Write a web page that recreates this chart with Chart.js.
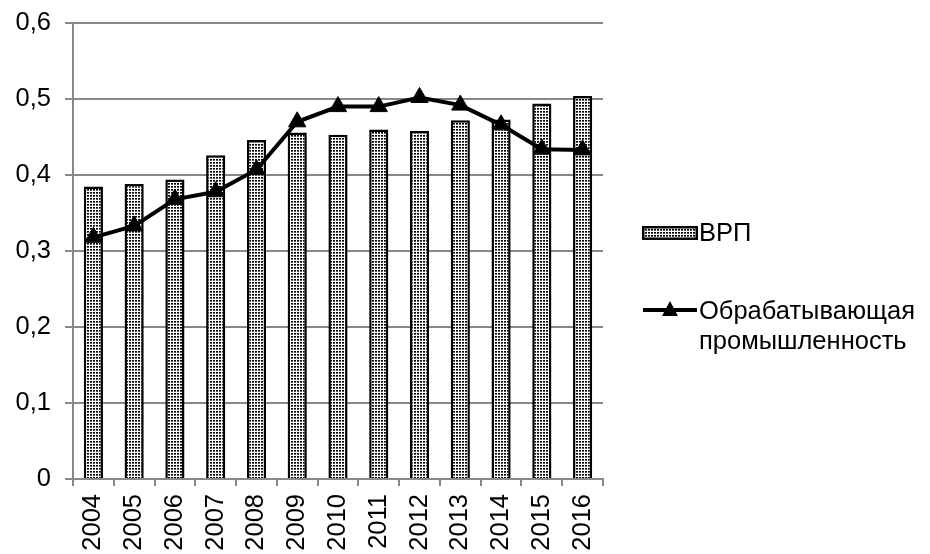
<!DOCTYPE html>
<html><head><meta charset="utf-8">
<script src="https://cdn.jsdelivr.net/npm/chart.js@4/dist/chart.umd.min.js"></script>
<style>
html,body{margin:0;padding:0;background:#fff;}
#wrap{position:relative;width:930px;height:554px;}
.lg{position:absolute;font-family:"Liberation Sans",Arial,sans-serif;font-size:25.5px;color:#000;line-height:30px;}
</style></head>
<body><div id="wrap"><canvas id="c" width="930" height="554"></canvas>
<div class="lg" style="left:699px;top:217px;">ВРП</div>
<div class="lg" style="left:699px;top:295px;">Обрабатывающая<br>промышленность</div>
<canvas id="sw1" width="56" height="14" style="position:absolute;left:642px;top:226px;"></canvas>
<canvas id="sw2" width="58" height="20" style="position:absolute;left:641px;top:299px;"></canvas>
</div>
<script>
const years = ['2004','2005','2006','2007','2008','2009','2010','2011','2012','2013','2014','2015','2016'];
const vrp = [0.385,0.388,0.394,0.426,0.446,0.456,0.453,0.460,0.458,0.472,0.473,0.494,0.504];
const manuf = [0.318,0.333,0.368,0.378,0.407,0.470,0.490,0.490,0.502,0.492,0.466,0.434,0.433];
const yTicks = [0,0.1,0.2,0.3,0.4,0.5,0.6];

function makePattern(){
  const p=document.createElement('canvas');p.width=3;p.height=3;
  const g=p.getContext('2d');g.fillStyle='#fff';g.fillRect(0,0,3,3);
  g.fillStyle='#000';g.fillRect(0,0,2,1);g.fillStyle='#555';g.fillRect(0,1,2,1);
  const ctx=document.getElementById('c').getContext('2d');
  return ctx.createPattern(p,'repeat');
}
const pat=makePattern();
const FONT={family:'"Liberation Sans", Arial, sans-serif',size:25.5};

new Chart(document.getElementById('c'),{
  data:{labels:years,datasets:[
    {type:'line',label:'Обрабатывающая промышленность',data:manuf,borderColor:'#000',backgroundColor:'#000',borderWidth:4,
     pointStyle:'triangle',pointRadius:10,pointBorderWidth:1,pointBackgroundColor:'#000',tension:0,order:0},
    {type:'bar',label:'ВРП',data:vrp,backgroundColor:pat,borderColor:'#000',borderWidth:2.5,
     barPercentage:0.47,categoryPercentage:1,order:1}
  ]},
  options:{responsive:false,animation:false,
    layout:{padding:{left:0,right:327,top:23,bottom:0}},
    plugins:{legend:{display:false},tooltip:{enabled:false}},
    scales:{
      x:{offset:true,grid:{offset:true,drawOnChartArea:false,color:'#888',tickLength:7,lineWidth:2},
         border:{color:'#888',width:2},
         afterFit:(ax)=>{ax.height=75;ax.paddingLeft=0;ax.paddingRight=0;},
         ticks:{color:'#000',font:FONT,maxRotation:90,minRotation:90,padding:8}},
      y:{min:0,max:0.6,afterBuildTicks:(ax)=>{ax.ticks=yTicks.map(v=>({value:v}));},
         grid:{color:'#888',lineWidth:2,tickLength:8},border:{color:'#888',width:2},
         afterFit:(ax)=>{ax.width=73;ax.paddingTop=0;ax.paddingBottom=0;},
         ticks:{color:'#000',font:FONT,padding:14,callback:(v)=>v===0?'0':v.toFixed(1).replace('.',',')}}
    }
  }
});
(function(){
  const a=document.getElementById('sw1').getContext('2d');
  a.fillStyle=pat;a.fillRect(0,0,56,14);a.strokeStyle='#000';a.lineWidth=2.5;a.strokeRect(1.25,1.25,53.5,11.5);
  const b=document.getElementById('sw2').getContext('2d');
  b.strokeStyle='#000';b.lineWidth=4;b.beginPath();b.moveTo(2,11);b.lineTo(56,11);b.stroke();
  b.fillStyle='#000';b.beginPath();b.moveTo(29,2);b.lineTo(37,17);b.lineTo(21,17);b.closePath();b.fill();
})();
</script></body></html>
